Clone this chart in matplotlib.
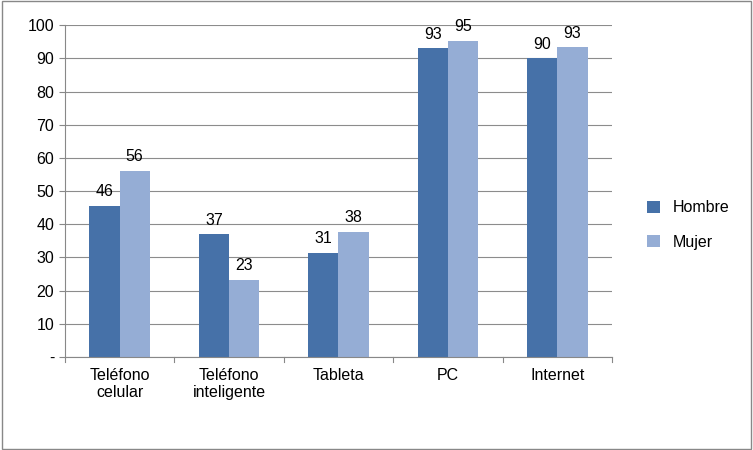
import numpy as np
import matplotlib.pyplot as plt
from matplotlib.patches import Rectangle

categories = ['Teléfono\ncelular', 'Teléfono\ninteligente', 'Tableta', 'PC', 'Internet']
hombre = [45.5, 37.0, 31.3, 93.0, 90.0]
mujer = [56.0, 23.3, 37.7, 95.3, 93.3]
hombre_lbl = ['46', '37', '31', '93', '90']
mujer_lbl = ['56', '23', '38', '95', '93']
yticks = [0, 10, 20, 30, 40, 50, 60, 70, 80, 90, 100]
ytick_lbl = ['-', '10', '20', '30', '40', '50', '60', '70', '80', '90', '100']

plt.rcParams['font.family'] = 'Liberation Sans'
fig = plt.figure(figsize=(7.53, 4.5), dpi=100)
fig.patches.append(Rectangle((0.002, 0.002), 0.996, 0.996, transform=fig.transFigure,
                             fill=False, edgecolor='#888888', linewidth=1))
ax = fig.add_axes([0.086, 0.207, 0.727, 0.737])

x = np.arange(len(categories))
w = 0.275
b1 = ax.bar(x - w/2, hombre, w, color='#4671A8', label='Hombre')
b2 = ax.bar(x + w/2, mujer, w, color='#95ADD5', label='Mujer')
for bars, lbls in ((b1, hombre_lbl), (b2, mujer_lbl)):
    for r, t in zip(bars, lbls):
        ax.text(r.get_x() + r.get_width()/2, r.get_height() + 2, t,
                ha='center', va='bottom', fontsize=11.5)

ax.set_xlim(-0.5, len(categories) - 0.5)
ax.set_ylim(0, 100)
ax.set_yticks(yticks)
ax.set_yticklabels(ytick_lbl, fontsize=11.5)
ax.set_xticks(x)
ax.set_xticklabels(categories, fontsize=11.5)
ax.tick_params(axis='x', length=0, pad=8)
ax.tick_params(axis='y', length=4, color='#888888')
ax.grid(axis='y', color='#8c8c8c', linewidth=0.8)
ax.set_axisbelow(True)
for s in ['top', 'right']:
    ax.spines[s].set_visible(False)
for s in ['left', 'bottom']:
    ax.spines[s].set_color('#888888')
# category separator ticks
for xb in np.arange(-0.5, len(categories)):
    ax.plot([xb, xb], [0, -1.5], color='#888888', lw=0.8, clip_on=False)

fig.legend(loc='center left', bbox_to_anchor=(0.84, 0.5), frameon=False,
           fontsize=11.5, handlelength=0.8, handleheight=0.8, labelspacing=1.2)
fig.savefig('out.png', dpi=100)
